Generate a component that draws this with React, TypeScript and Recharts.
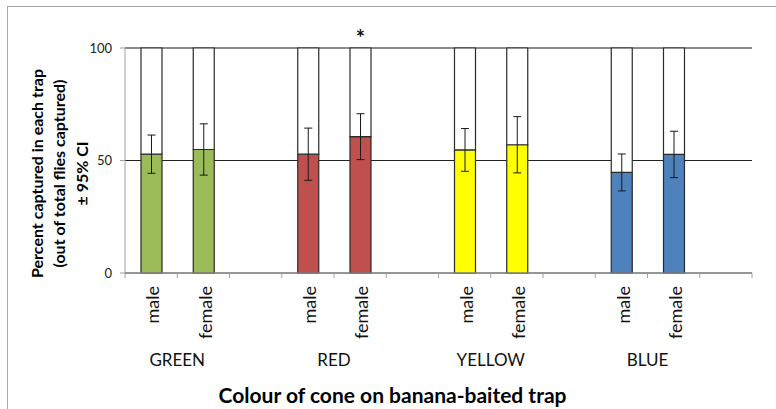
import React from "react";
import {
  BarChart,
  Bar,
  Cell,
  XAxis,
  YAxis,
  CartesianGrid,
  ErrorBar,
  LabelList,
} from "recharts";

// trap colours and sexes, in plotting order
const groups = ["GREEN", "RED", "YELLOW", "BLUE"];
const sexes = ["male", "female"];
const groupColours = ["#9bbb59", "#c0504d", "#ffff00", "#4f81bd"];

// percent captured, male/female for each colour
const captured = [52.8, 54.9, 52.8, 60.6, 54.7, 57.0, 44.7, 52.7];
// half-width of the 95% confidence interval
const ci95 = [8.5, 11.4, 11.6, 10.2, 9.5, 12.5, 8.2, 10.3];
// significance markers
const marks = ["", "", "", "*", "", "", "", ""];

const yTicks = [0, 50, 100];
const minorTicks = [0, 10, 20, 30, 40, 50, 60, 70, 80, 90, 100];

const FONT = "Lato, 'DejaVu Sans', sans-serif";

// each colour gets two bars followed by an empty slot
const table: any[] = [];
groups.forEach((g, gi) => {
  sexes.forEach((s, si) => {
    const k = gi * 2 + si;
    table.push({
      slot: `${g}-${s}`,
      group: g,
      sex: s,
      value: captured[k],
      rest: +(100 - captured[k]).toFixed(1),
      err: ci95[k],
      mark: marks[k],
      colour: groupColours[gi],
    });
  });
  table.push({ slot: `${g}-gap`, group: g, sex: "", value: null, rest: null, err: null, mark: "", colour: "#fff" });
});

// category tick: rotated sex label, slot-boundary tick marks, and the colour
// name centred under each male/female pair
function SlotTick({ x, y, payload, index }: any) {
  const i = payload.index ?? index;
  const row = table[i];
  const half = payload.offset ?? 26;
  const axisY = y - 2;
  return (
    <g>
      <line x1={x - half} x2={x - half} y1={axisY} y2={axisY + 5} stroke="#a0a0a0" />
      {i === table.length - 1 && (
        <line x1={x + half} x2={x + half} y1={axisY} y2={axisY + 5} stroke="#a0a0a0" />
      )}
      {row && row.sex && (
        <text
          transform={`translate(${x + 2},${axisY + 13}) rotate(-90)`}
          textAnchor="end"
          dy="0.35em"
          fontFamily={FONT}
          fontSize={18}
          fill="#111"
        >
          {row.sex}
        </text>
      )}
      {row && row.sex === "female" && (
        <text x={x - half} y={axisY + 93} textAnchor="middle" fontFamily={FONT} fontSize={17} fill="#111">
          {row.group}
        </text>
      )}
    </g>
  );
}

function YTitle({ viewBox }: any) {
  const cy = viewBox.y + viewBox.height / 2 + 13;
  const lines = ["Percent captured in each trap", "(out of total flies captured)", "± 95% CI"];
  const xs = [37, 59, 82];
  return (
    <g>
      {lines.map((t, i) => (
        <text
          key={t}
          transform={`translate(${xs[i]},${cy}) rotate(-90)`}
          textAnchor="middle"
          dy="0.35em"
          fontFamily={FONT}
          fontWeight="bold"
          fontSize={16}
          fill="#000"
        >
          {t}
        </text>
      ))}
    </g>
  );
}

function XTitle({ viewBox }: any) {
  return (
    <text
      x={viewBox.x + viewBox.width / 2 - 46}
      y={viewBox.y + viewBox.height - 6}
      textAnchor="middle"
      fontFamily={FONT}
      fontWeight="bold"
      fontSize={21}
      fill="#000"
    >
      Colour of cone on banana-baited trap
    </text>
  );
}

export default function App() {
  return (
    <div style={{ position: "fixed", left: 0, top: 0, width: 776, height: 409, background: "#fff" }}>
      <div
        style={{
          position: "absolute",
          left: 7,
          top: 6,
          right: 0,
          bottom: 0,
          borderTop: "1px solid #a6a6a6",
          borderLeft: "1px solid #a6a6a6",
        }}
      />
      <BarChart
        width={776}
        height={409}
        data={table}
        margin={{ top: 48, right: 24, bottom: 0, left: 0 }}
        style={{ position: "absolute", left: 0, top: 0 }}
      >
        <CartesianGrid yAxisId="minor" vertical={false} stroke="#ececec" />
        <CartesianGrid vertical={false} stroke="#222" />
        <XAxis
          dataKey="slot"
          height={136}
          stroke="#a0a0a0"
          tickLine={false}
          tickSize={0}
          interval={0}
          tick={<SlotTick />}
          label={<XTitle />}
        />
        <YAxis
          width={125}
          domain={[0, 100]}
          ticks={yTicks}
          tickSize={5}
          tickMargin={8}
          stroke="#a0a0a0"
          tick={{ fontFamily: FONT, fontSize: 13, fill: "#222" }}
          label={<YTitle />}
        />
        <YAxis yAxisId="minor" hide domain={[0, 100]} ticks={minorTicks} />
        <Bar dataKey="value" stackId="a" barSize={21} stroke="#2a2a2a" strokeWidth={1.2} isAnimationActive={false}>
          {table.map((row) => (
            <Cell key={row.slot} fill={row.colour} />
          ))}
          <ErrorBar dataKey="err" width={4} stroke="#1a1a1a" strokeWidth={1} />
        </Bar>
        <Bar dataKey="rest" stackId="a" barSize={21} fill="#fff" stroke="#2a2a2a" strokeWidth={1.2} isAnimationActive={false}>
          <LabelList
            dataKey="mark"
            position="top"
            offset={2}
            fill="#111"
            stroke="none"
            style={{ fontFamily: FONT, fontSize: 22, fontWeight: "bold", fill: "#111" }}
          />
        </Bar>
      </BarChart>
    </div>
  );
}
